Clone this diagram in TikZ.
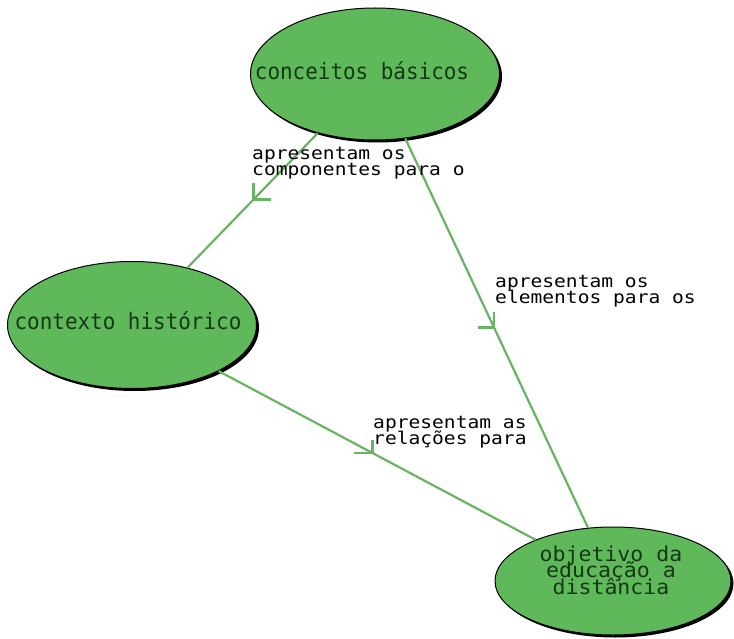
\documentclass[tikz,border=0pt]{standalone}
\usepackage{fontspec}
\newfontfamily\nodefont[FakeStretch=0.93]{DejaVu Sans Mono}
\newfontfamily\obfont[FakeStretch=1.05]{DejaVu Sans Mono}
\newfontfamily\labfont[FakeStretch=1.12]{DejaVu Sans Mono}
\usetikzlibrary{shapes.geometric,shadows,calc}
\definecolor{nodegreen}{RGB}{95,185,90}
\definecolor{linegreen}{RGB}{105,180,98}
\definecolor{txtdark}{RGB}{20,55,20}
\begin{document}
\begin{tikzpicture}[x=1pt,y=-1pt,
  concept/.style={ellipse, fill=nodegreen, draw=black, line width=1pt, inner sep=0pt,
    drop shadow={shadow xshift=2.5pt, shadow yshift=-2.5pt, fill=black, opacity=1}},
  ntext/.style={font={\nodefont\fontsize{22.5}{16}\selectfont\lineskiplimit=-100pt}, text=txtdark, inner sep=0pt},
  otext/.style={font={\obfont\fontsize{20.5}{16.2}\selectfont\lineskiplimit=-100pt}, text=txtdark, inner sep=0pt},
  ltext/.style={font={\labfont\fontsize{17.5}{16}\selectfont\lineskiplimit=-100pt}, inner sep=0pt, align=left, anchor=base west},
  link/.style={draw=linegreen, line width=2.2pt},
  barb/.style={draw=linegreen, line width=2.6pt}]
\useasboundingbox (0,0) rectangle (734,639);
\fill[white] (0,0) rectangle (734,639);

\node[concept, minimum width=249pt, minimum height=132pt] (cb) at (375,74) {};
\node[concept, minimum width=249pt, minimum height=127pt] (ch) at (132,325) {};
\node[concept, minimum width=236pt, minimum height=108pt] (ob) at (613,581) {};

\node[ntext, anchor=base] (cbt) at (362,80) {conceitos básicos};
\node[ntext, anchor=base] (cht) at (128,330) {contexto histórico};
\node[otext, align=center, anchor=base] (obt) at (611,594) {objetivo da\\educação a\\distância};

\draw[link] (cb) -- (ch);
\draw[link] (cb) -- (ob);
\draw[link] (ch) -- (ob);

\coordinate (m1) at ($(cb.center)!0.5!(ch.center)$);
\coordinate (m2) at ($(cb.center)!0.5!(ob.center)$);
\coordinate (m3) at ($(ch.center)!0.5!(ob.center)$);
\draw[barb] ($(m1)+(0,-16)$) -- (m1) -- ++(17,0);
\draw[barb] ($(m2)+(0,-16)$) -- (m2) -- ++(-16,0);
\draw[barb] ($(m3)+(0,-13)$) -- (m3) -- ++(-19,0);

\node[ltext] (l1) at (252,176) {apresentam os\\componentes para o};
\node[ltext] (l2) at (495,303) {apresentam os\\elementos para os};
\node[ltext] (l3) at (373,444) {apresentam as\\relações para};
\end{tikzpicture}
\end{document}
